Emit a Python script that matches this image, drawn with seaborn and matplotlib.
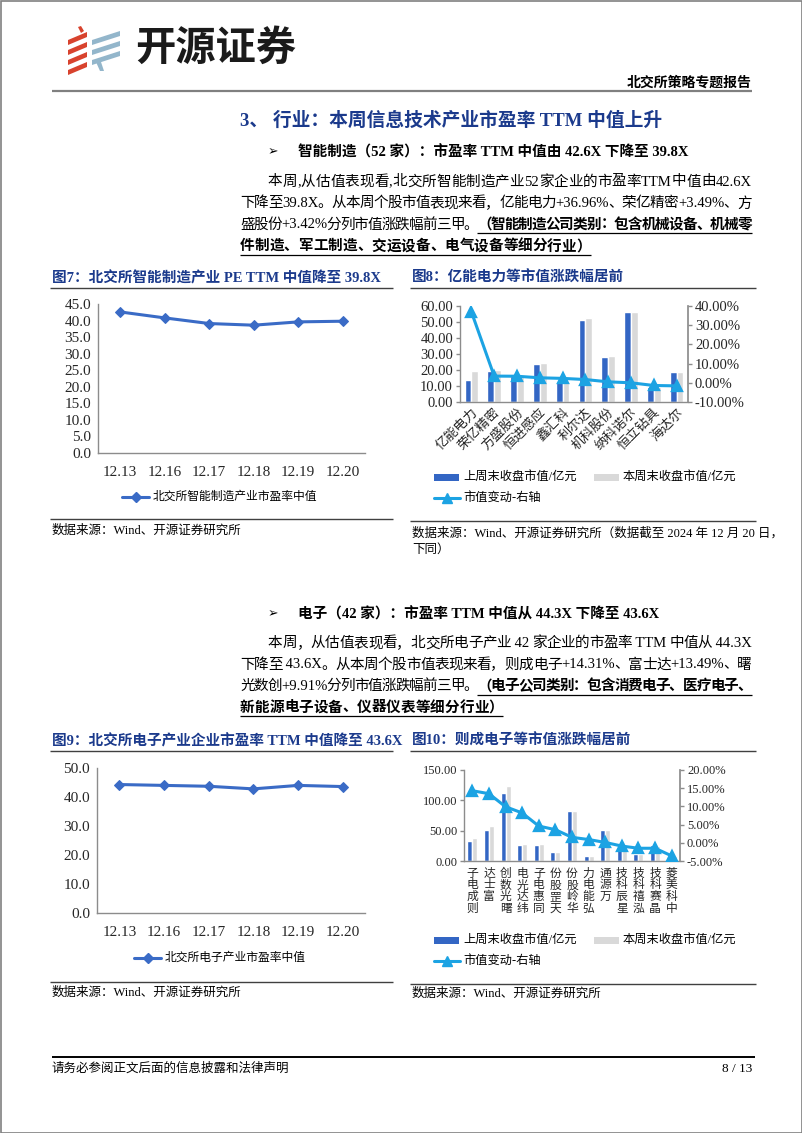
import re
import numpy as np
import pandas as pd
import matplotlib
matplotlib.use('Agg')
import matplotlib.pyplot as plt
import seaborn as sns
from matplotlib.patches import Polygon, Rectangle
from matplotlib.lines import Line2D
from matplotlib.ticker import FuncFormatter

# 数据
dates = ['12.13', '12.16', '12.17', '12.18', '12.19', '12.20']
pe_zhizao = [42.6, 40.8, 39.1, 38.6, 39.6, 39.8]
pe_dianzi = [44.3, 44.0, 43.7, 42.8, 44.0, 43.6]

zz_names = ['亿能电力', '荣亿精密', '方盛股份', '恒进感应', '鑫汇科',
            '利尔达', '机科股份', '纳科诺尔', '恒立钻具', '海达尔']
zz_last = [14.0, 19.6, 16.0, 23.8, 12.4, 51.2, 28.4, 56.1, 9.6, 19.0]
zz_this = [19.2, 20.3, 16.5, 24.4, 12.7, 52.6, 29.0, 56.2, 9.4, 18.8]
zz_chg = [36.96, 3.49, 3.42, 2.6, 2.3, 1.7, 0.5, 0.0, -1.4, -1.6]

dz_names = ['则成电子', '富士达', '曙光数创', '纬达光电', '同惠电子', '天罡股份', '华岭股份',
            '弘能电力', '万源通', '星辰科技', '泓禧科技', '晶赛科技', '中科美菱']
dz_last = [33.1, 50.7, 112.5, 26.5, 26.5, 14.3, 81.6, 8.8, 50.7, 22.8, 11.2, 25.6, 8.4]
dz_this = [37.8, 57.5, 123.6, 28.7, 27.8, 14.9, 83.0, 8.9, 50.9, 22.6, 11.0, 25.2, 8.1]
dz_chg = [14.31, 13.49, 9.91, 8.2, 4.6, 3.6, 1.5, 0.9, 0.1, -0.9, -1.5, -1.5, -3.6]

W, H = 802, 1133
NAVY = '#1B3A8C'
LINE_BLUE = '#3A6BC6'
BAR_BLUE = '#3366C4'
BAR_GREY = '#D9D9D9'
CYAN = '#1CA3E3'
SPINE = '#8C8C8C'

sns.set_theme(style='white')
plt.rcParams['font.family'] = ['Liberation Serif', 'Noto Sans CJK SC', 'DejaVu Sans']
plt.rcParams['axes.unicode_minus'] = False

fig = plt.figure(figsize=(W / 100, H / 100), dpi=100)
bg = fig.add_axes([0, 0, 1, 1])
bg.set_xlim(0, W)
bg.set_ylim(H, 0)
bg.axis('off')
renderer = fig.canvas.get_renderer()


def px_axes(x0, y0, x1, y1):
    return fig.add_axes([x0 / W, 1 - y1 / H, (x1 - x0) / W, (y1 - y0) / H])


def txt(x, y, s, size=10.5, weight='normal', color='black', ha='left', **kw):
    return bg.text(x, y, s, fontsize=size, fontweight=weight, color=color,
                   ha=ha, va='center', **kw)


def hline(y, x0, x1, lw=1.0, color='#404040'):
    bg.plot([x0, x1], [y, y], color=color, lw=lw, solid_capstyle='butt')


def width_of(t):
    return t.get_window_extent(renderer).width


def para_line(x0, x1, y, segs, justify=True, size=10.5):
    # segs: (文字, 是否加粗下划线)
    items = []
    for s, bu in segs:
        for tok in re.findall(r'[A-Za-z0-9.+%,/ -]+|.', s):
            t = txt(0, y, tok, size=size, weight='bold' if bu else 'normal')
            items.append((t, width_of(t), bu))
    total = sum(w for _, w, _ in items)
    gap = (x1 - x0 - total) / (len(items) - 1) if justify and len(items) > 1 else 0
    x = x0
    ul = []
    for t, w, bu in items:
        t.set_x(x)
        if bu:
            ul.append((x, x + w))
        x += w + gap
    if ul:
        hline(y + 8, ul[0][0], ul[-1][1], lw=0.9, color='black')


# 页面边框
bg.add_patch(Rectangle((0.5, 0.5), W - 1, H - 1, fill=False, ec='#808080', lw=1.2))

# logo
for y0 in [33, 43, 53, 63]:
    bg.add_patch(Polygon([(68, y0 + 7), (87, y0 - 1), (87, y0 + 4), (68, y0 + 12)],
                         closed=True, color='#D8432E', lw=0))
bg.add_patch(Polygon([(78, 27), (81, 26), (84, 31), (81, 33)], closed=True, color='#D8432E', lw=0))
for y0 in [33, 43, 53]:
    bg.add_patch(Polygon([(92, y0 + 7), (120, y0 - 2), (120, y0 + 3), (92, y0 + 12)],
                         closed=True, color='#93B6CB', lw=0))
bg.add_patch(Polygon([(96, 62), (101, 62), (104, 71), (100, 71)], closed=True, color='#93B6CB', lw=0))
txt(135, 48, '开源证券', size=29, weight='bold', color='#1a1a1a', family='Noto Sans CJK SC')

txt(752, 83, '北交所策略专题报告', size=10, weight='bold', ha='right')
hline(91, 52, 752, lw=1.6, color='#808080')

# 正文
txt(240, 121, '3、 行业：本周信息技术产业市盈率 TTM 中值上升', size=13.5, weight='bold', color=NAVY)

txt(268, 152, '➢', size=9, family='DejaVu Sans')
txt(298, 152, '智能制造（52 家）：市盈率 TTM 中值由 42.6X 下降至 39.8X', size=10.5, weight='bold')
para_line(268, 752, 182, [('本周,从估值表现看,北交所智能制造产业52家企业的市盈率TTM中值由42.6X', False)])
para_line(240, 752, 203.5, [('下降至39.8X。从本周个股市值表现来看，亿能电力+36.96%、荣亿精密+3.49%、方', False)])
para_line(240, 752, 225, [('盛股份+3.42%分列市值涨跌幅前三甲。', False),
                          ('（智能制造公司类别：包含机械设备、机械零', True)])
para_line(240, 752, 246.5, [('件制造、军工制造、交运设备、电气设备等细分行业）', True)], justify=False)

txt(268, 614, '➢', size=9, family='DejaVu Sans')
txt(298, 614, '电子（42 家）：市盈率 TTM 中值从 44.3X 下降至 43.6X', size=10.5, weight='bold')
para_line(268, 752, 643.5, [('本周，从估值表现看，北交所电子产业 42 家企业的市盈率 TTM 中值从 44.3X', False)])
para_line(240, 752, 665, [('下降至 43.6X。从本周个股市值表现来看，则成电子+14.31%、富士达+13.49%、曙', False)])
para_line(240, 752, 686.5, [('光数创+9.91%分列市值涨跌幅前三甲。', False),
                            ('（电子公司类别：包含消费电子、医疗电子、', True)])
para_line(240, 752, 708, [('新能源电子设备、仪器仪表等细分行业）', True)], justify=False)

# 图表标题与分隔线
txt(52, 278, '图7：北交所智能制造产业 PE TTM 中值降至 39.8X', size=10.5, weight='bold', color=NAVY)
txt(412, 278, '图8：亿能电力等市值涨跌幅居前', size=10.5, weight='bold', color=NAVY)
hline(288, 50, 393)
hline(288, 410, 756)
txt(52, 741, '图9：北交所电子产业企业市盈率 TTM 中值降至 43.6X', size=10.5, weight='bold', color=NAVY)
txt(412, 741, '图10：则成电子等市值涨跌幅居前', size=10.5, weight='bold', color=NAVY)
hline(751, 50, 393)
hline(751, 410, 756)

hline(519, 50, 393)
hline(521, 410, 756)
txt(52, 531, '数据来源：Wind、开源证券研究所', size=9)
txt(412, 533, '数据来源：Wind、开源证券研究所（数据截至 2024 年 12 月 20 日，', size=9)
txt(412, 550, '下同）', size=9)
hline(982, 50, 393)
hline(984, 410, 756)
txt(52, 993, '数据来源：Wind、开源证券研究所', size=9)
txt(412, 994, '数据来源：Wind、开源证券研究所', size=9)

# 页脚
hline(1057, 52, 755, lw=1.4, color='black')
txt(52, 1069, '请务必参阅正文后面的信息披露和法律声明', size=9)
txt(752, 1069, '8 / 13', size=9.5, ha='right')


def style_axis(ax, n):
    sns.despine(ax=ax)
    for sp in ('left', 'bottom'):
        ax.spines[sp].set_color(SPINE)
        ax.spines[sp].set_linewidth(1)
    ax.set_xlim(-0.5, n - 0.5)
    ax.set_xticks(np.arange(0.5, n - 1, 1), minor=True)
    ax.tick_params(axis='x', which='major', length=0)
    ax.tick_params(axis='x', which='minor', direction='in', length=4, color=SPINE, width=1)
    ax.tick_params(axis='y', which='major', direction='out', length=3, color=SPINE, width=1, pad=2)
    ax.set_xlabel('')
    ax.set_ylabel('')
    ax.grid(False)


def pe_chart(box, values, ymax, ystep, label, leg_y, leg_x):
    ax = px_axes(*box)
    sns.lineplot(x=dates, y=values, ax=ax, color=LINE_BLUE, lw=2.2, marker='D',
                 markersize=5.5, markeredgecolor=LINE_BLUE)
    style_axis(ax, len(dates))
    ax.set_ylim(0, ymax)
    ax.set_yticks(np.arange(0, ymax + 0.1, ystep))
    ax.yaxis.set_major_formatter(FuncFormatter(lambda v, p: f'{v:.1f}'))
    ax.tick_params(axis='x', labelsize=11, pad=9)
    ax.tick_params(axis='y', labelsize=11)
    bg.add_line(Line2D([leg_x, leg_x + 27], [leg_y, leg_y], color=LINE_BLUE, lw=2.2))
    bg.add_line(Line2D([leg_x + 13.5], [leg_y], color=LINE_BLUE, marker='D', markersize=5.5))
    txt(leg_x + 31, leg_y, label, size=8.5)
    return ax


pe_chart((98, 304, 365, 453), pe_zhizao, 45, 5, '北交所智能制造产业市盈率中值', 497, 122)
pe_chart((97, 768, 365, 913), pe_dianzi, 50, 10, '北交所电子产业市盈率中值', 958, 134)


def bar_chart(box, names, last, this, chg, ymax, ystep, rmin, rmax, rstep, lsize, leg_y1, leg_y2):
    ax = px_axes(*box)
    df = pd.DataFrame({
        '公司': names * 2,
        '周期': ['上周末收盘市值/亿元'] * len(names) + ['本周末收盘市值/亿元'] * len(names),
        '市值': last + this,
    })
    sns.barplot(data=df, x='公司', y='市值', hue='周期', palette=[BAR_BLUE, BAR_GREY],
                width=0.6, gap=0, ax=ax, legend=False, saturation=1)
    ax2 = ax.twinx()
    sns.pointplot(x=names, y=chg, ax=ax2, color=CYAN, markers='^', errorbar=None,
                  markersize=6.5, linewidth=2.2)
    style_axis(ax, len(names))
    ax.set_ylim(0, ymax)
    ax.set_yticks(np.arange(0, ymax + 0.1, ystep))
    ax.yaxis.set_major_formatter(FuncFormatter(lambda v, p: f'{v:.2f}'))
    ax.tick_params(axis='y', labelsize=lsize)
    ax2.set_ylim(rmin, rmax)
    ax2.set_yticks(np.arange(rmin, rmax + 0.1, rstep))
    ax2.yaxis.set_major_formatter(FuncFormatter(lambda v, p: f'{v:.2f}%'))
    ax2.tick_params(axis='y', labelsize=lsize, direction='out', length=3, color=SPINE, width=1, pad=2)
    for sp in ('top', 'left', 'bottom'):
        ax2.spines[sp].set_visible(False)
    ax2.spines['right'].set_color(SPINE)
    ax2.set_ylabel('')
    ax.set_xlim(-0.5, len(names) - 0.5)
    ax.set_xticks(np.arange(len(names)))

    # 图例
    x0 = 434
    bg.add_patch(Rectangle((x0, leg_y1 - 3.5), 25, 7, color=BAR_BLUE, lw=0))
    txt(x0 + 29, leg_y1, '上周末收盘市值/亿元', size=8.8)
    bg.add_patch(Rectangle((594, leg_y1 - 3.5), 25, 7, color=BAR_GREY, lw=0))
    txt(623, leg_y1, '本周末收盘市值/亿元', size=8.8)
    bg.add_line(Line2D([x0, x0 + 26], [leg_y2, leg_y2], color=CYAN, lw=2.2))
    bg.add_line(Line2D([x0 + 13], [leg_y2], color=CYAN, marker='^', markersize=6.5))
    txt(x0 + 29, leg_y2, '市值变动-右轴', size=8.8)
    return ax


ax8 = bar_chart((460, 306, 688, 402), zz_names, zz_last, zz_this, zz_chg,
                60, 10, -10, 40, 10, 10.5, 477, 498)
ax8.set_xticklabels(zz_names, rotation=45, ha='right', rotation_mode='anchor', fontsize=9.5)
ax8.tick_params(axis='x', which='major', pad=3)

ax10 = bar_chart((464, 770, 680, 861), dz_names, dz_last, dz_this, dz_chg,
                 150, 50, -5, 20, 5, 9, 940, 961)
ax10.set_xticklabels(['\n'.join(reversed(n)) for n in dz_names], rotation=0, va='top',
                     fontsize=8.5, linespacing=0.95)
ax10.tick_params(axis='x', which='major', pad=5)

fig.savefig('out.png', dpi=100)
